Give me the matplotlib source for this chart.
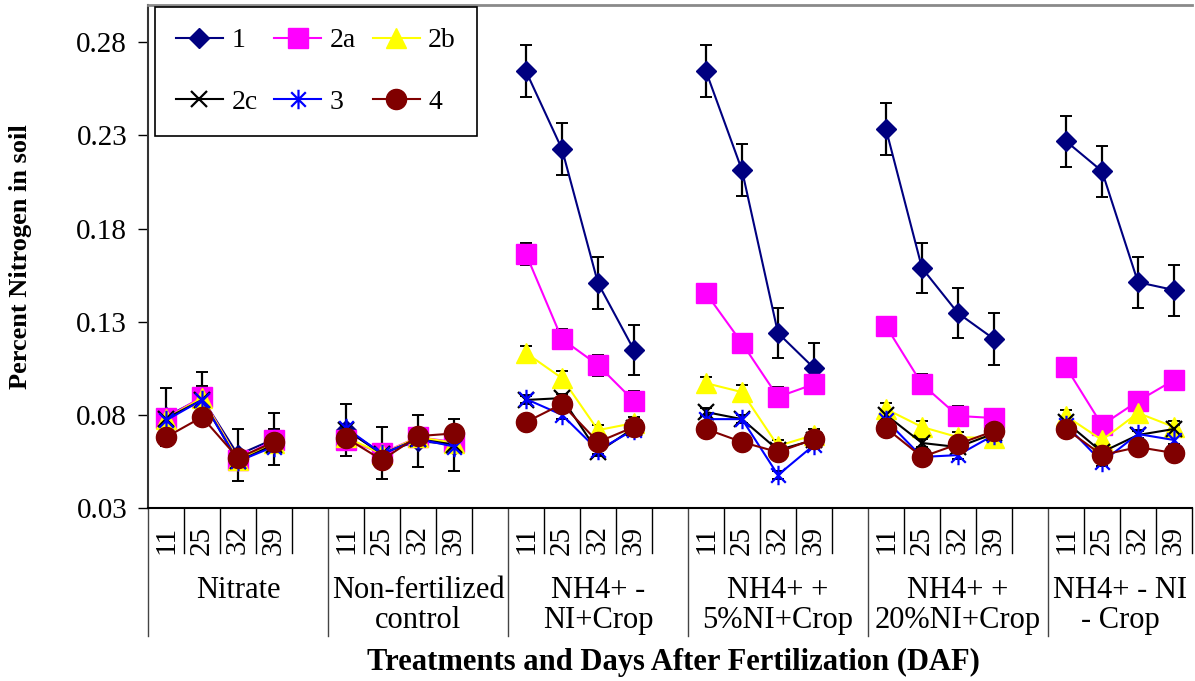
import matplotlib
matplotlib.use('Agg')
import matplotlib.pyplot as plt
from matplotlib.path import Path

plt.rcParams['font.family'] = 'Liberation Serif'

# Treatments (groups) and sampling days
treatments = ['Nitrate', 'Non-fertilized\ncontrol', 'NH4+ -\nNI+Crop',
              'NH4+ +\n5%NI+Crop', 'NH4+ +\n20%NI+Crop', 'NH4+ - NI\n- Crop']
days = ['11', '25', '32', '39']
series_names = ['1', '2a', '2b', '2c', '3', '4']

# Percent N in soil, 4 days per treatment, treatments in order above
n_1 = [0.079, 0.089, 0.0585, 0.067,
       0.072, 0.0595, 0.066, 0.064,
       0.2644, 0.2226, 0.1507, 0.1148,
       0.2644, 0.2113, 0.1239, 0.1051,
       0.2333, 0.1588, 0.1346, 0.1207,
       0.2269, 0.2108, 0.1512, 0.147]
n_2a = [0.0783, 0.0896, 0.056, 0.0665,
        0.0665, 0.0595, 0.068, 0.0654,
        0.1663, 0.1207, 0.1067, 0.0874,
        0.1453, 0.1185, 0.0896, 0.0965,
        0.1276, 0.0965, 0.0794, 0.0783,
        0.1056, 0.0745, 0.0874, 0.0987]
n_2b = [0.078, 0.089, 0.056, 0.065,
        0.068, 0.059, 0.068, 0.065,
        0.1132, 0.0997, 0.0718, 0.0756,
        0.097, 0.0922, 0.0633, 0.0692,
        0.0831, 0.0735, 0.068, 0.0676,
        0.0794, 0.0665, 0.081, 0.0735]
n_2c = [0.078, 0.088, 0.055, 0.064,
        0.072, 0.059, 0.067, 0.064,
        0.088, 0.089, 0.060, 0.073,
        0.0815, 0.0777, 0.0611, 0.0665,
        0.080, 0.0649, 0.0627, 0.070,
        0.0761, 0.060, 0.0692, 0.0724]
n_3 = [0.077, 0.088, 0.055, 0.063,
       0.073, 0.059, 0.067, 0.063,
       0.0885, 0.080, 0.061, 0.072,
       0.0777, 0.0777, 0.0477, 0.0638,
       0.0772, 0.0574, 0.0584, 0.0692,
       0.0745, 0.0547, 0.0697, 0.0665]
n_4 = [0.068, 0.0788, 0.0568, 0.0654,
       0.0676, 0.0558, 0.0686, 0.070,
       0.0761, 0.0858, 0.0654, 0.0735,
       0.0724, 0.0654, 0.060, 0.067,
       0.0729, 0.0574, 0.0643, 0.0713,
       0.0724, 0.0584, 0.0627, 0.0595]

# standard errors
se_1 = [0.0155, 0.014, 0.014, 0.014,
        0.014, 0.014, 0.014, 0.014,
        0.014, 0.014, 0.014, 0.0135,
        0.014, 0.014, 0.0135, 0.0135,
        0.014, 0.0135, 0.0135, 0.014,
        0.0137, 0.0137, 0.0137, 0.0137]
se_2a = [0.005, 0.006, 0.005, 0.006,
         0.0055, 0.005, 0.005, 0.005,
         0.0058, 0.0054, 0.0056, 0.0052,
         0.005, 0.004, 0.0052, 0.005,
         0.005, 0.0055, 0.0055, 0.005,
         0.005, 0.005, 0.0045, 0.005]
se_2b = [0.003, 0.003, 0.003, 0.003,
         0.003, 0.003, 0.003, 0.003,
         0.0035, 0.004, 0.003, 0.003,
         0.0035, 0.004, 0.003, 0.003,
         0.003, 0.003, 0.003, 0.003,
         0.003, 0.003, 0.003, 0.003]
se_other = [0.002] * 24

values = [n_1, n_2a, n_2b, n_2c, n_3, n_4]
errors = [se_1, se_2a, se_2b, se_other, se_other, se_other]

# vertical bar + cross, like the spreadsheet "star" marker
star = Path([(0, -1), (0, 1), (-0.75, -0.75), (0.75, 0.75), (-0.75, 0.75), (0.75, -0.75)],
            [Path.MOVETO, Path.LINETO, Path.MOVETO, Path.LINETO, Path.MOVETO, Path.LINETO])

styles = [
    dict(color='#000080', marker='D', ms=10, mfc='#000080', mec='#000080'),
    dict(color='#FF00FF', marker='s', ms=14, mfc='#FF00FF', mec='#FF00FF'),
    dict(color='#FFFF00', marker='^', ms=14, mfc='#FFFF00', mec='#FFFF00'),
    dict(color='black', marker='x', ms=12, mew=1.6, mec='black'),
    dict(color='#0000FF', marker=star, ms=14, mew=1.6, mec='#0000FF'),
    dict(color='#800000', marker='o', ms=14.5, mfc='#800000', mec='#800000'),
]

fig = plt.figure(figsize=(11.95, 6.81), dpi=100)
ax = fig.add_axes([148 / 1195, 173 / 681, 1044 / 1195, 503 / 681])

n_days = len(days)
slot = n_days + 1  # one empty slot between treatments

handles = []
for k, (vals, errs, st) in enumerate(zip(values, errors, styles)):
    for g in range(len(treatments)):
        xs = [slot * g + d for d in range(n_days)]
        ys = vals[g * n_days:(g + 1) * n_days]
        es = errs[g * n_days:(g + 1) * n_days]
        ax.errorbar(xs, ys, yerr=es, fmt='none', ecolor='black', elinewidth=1.6,
                    capsize=4, capthick=1.4, zorder=2 + k * 0.1)
        line, = ax.plot(xs, ys, lw=1.5, zorder=3 + k * 0.1, **st)
    handles.append(line)

xmax = slot * len(treatments) - 1.5
ax.set_xlim(-0.5, xmax)
ax.set_ylim(0.03, 0.30)
ax.set_yticks([0.03, 0.08, 0.13, 0.18, 0.23, 0.28])
ax.set_yticklabels(['%.2f' % t for t in ax.get_yticks()], fontsize=21)
ax.tick_params(axis='y', direction='out', length=7, width=1, pad=8)
ax.set_xticks([])

ax.spines['right'].set_visible(False)
ax.spines['top'].set_color('#8a8a8a')
ax.spines['top'].set_linewidth(2)
ax.spines['left'].set_color('#333333')
ax.spines['left'].set_linewidth(1.5)
ax.spines['bottom'].set_linewidth(1.5)

# two-level category axis: days, then treatments
tr = ax.get_xaxis_transform()
short = -45 / 503
long_ = -128 / 503
for g, name in enumerate(treatments):
    left = slot * g - 0.5
    right = min(left + slot, xmax)
    ax.plot([left, left], [0, long_], color='#444444', lw=1, transform=tr, clip_on=False)
    for d, day in enumerate(days):
        x = slot * g + d
        ax.plot([x + 0.5, x + 0.5], [0, short], color='black', lw=1, transform=tr, clip_on=False)
        ax.text(x, -32 / 503, day, rotation=90, ha='center', va='center',
                fontsize=21, transform=tr)
    ax.text((left + right) / 2, -68 / 503, name, ha='center', va='top', fontsize=22,
            linespacing=1.05, transform=tr)

ax.set_ylabel('Percent Nitrogen in soil', fontsize=19, fontweight='bold')
ax.yaxis.set_label_coords(-116 / 1044, 0.5)
fig.text(673 / 1195, 1 - 662 / 681, 'Treatments and Days After Fertilization (DAF)',
         ha='center', va='center', fontsize=22, fontweight='bold')

# legend filled column by column, so order entries to read row-wise
order = [0, 3, 1, 4, 2, 5]
leg = ax.legend([handles[i] for i in order], [series_names[i] for i in order],
                ncol=3, loc='upper left',
                bbox_to_anchor=(7 / 1044, 1 - 2 / 503), borderaxespad=0,
                fontsize=20, frameon=True, fancybox=False, framealpha=1,
                edgecolor='black', handlelength=1.7, handletextpad=0.3,
                columnspacing=0.6, labelspacing=1.3, borderpad=0.75)
leg.get_frame().set_linewidth(1.2)

fig.savefig('out.png', dpi=100)
